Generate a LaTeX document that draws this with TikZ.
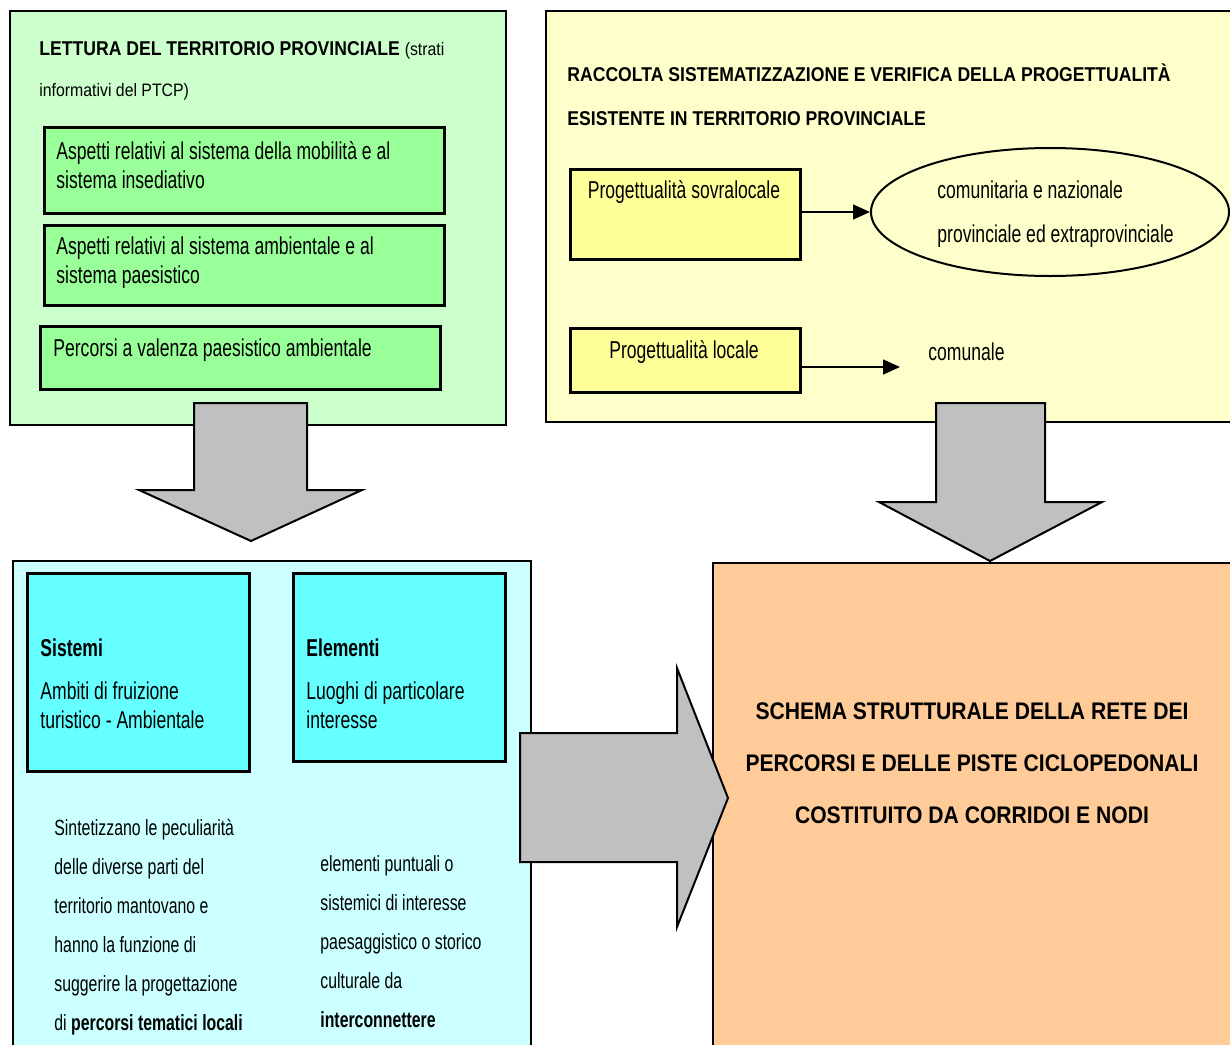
\documentclass[tikz,border=0pt]{standalone}
\usepackage{fontspec}
\setmainfont[FakeStretch=0.72]{Liberation Sans}
\newfontfamily\headfont[FakeStretch=0.88]{Liberation Sans}
\usetikzlibrary{arrows.meta,shapes.geometric}
\definecolor{greenbg}{HTML}{CCFFCC}
\definecolor{greenbox}{HTML}{99FF99}
\definecolor{yellowbg}{HTML}{FFFFCC}
\definecolor{yellowbox}{HTML}{FFFF99}
\definecolor{cyanbg}{HTML}{CCFFFF}
\definecolor{cyanbox}{HTML}{66FFFF}
\definecolor{orangebg}{HTML}{FFCC99}
\definecolor{arrowgray}{HTML}{C0C0C0}
\tikzset{
  panel/.style={draw, line width=1pt, anchor=north west, inner sep=0pt},
  subbox/.style={draw, line width=1.3pt, anchor=north west, inner sep=0pt},
  txt/.style={anchor=west, align=left, inner sep=0pt, font=\fontsize{12.2}{14.5}\selectfont},
  coltxt/.style={anchor=west, align=left, inner sep=0pt, font=\fontsize{11}{19.5}\selectfont},
  head/.style={anchor=west, align=left, inner sep=0pt, font=\headfont\bfseries\fontsize{10}{22}\selectfont},
  blockarrow/.style={draw, fill=arrowgray, line width=1pt, line join=miter},
  link/.style={-{Triangle[length=8.5pt,width=7.5pt]}, line width=0.7pt},
}
\begin{document}
\begin{tikzpicture}[x=0.5pt, y=-0.5pt]
\useasboundingbox (0,0) rectangle (1230,1044);
\clip (0,0) rectangle (1230,1044);
\node[panel, fill=greenbg, minimum width=248pt, minimum height=207pt] (lettura) at (9,10) {};
\node[subbox, fill=greenbox, minimum width=200pt, minimum height=43pt] (mobilita) at (43,126) {};
\node[subbox, fill=greenbox, minimum width=200pt, minimum height=40pt] (ambiente) at (43,224) {};
\node[subbox, fill=greenbox, minimum width=200pt, minimum height=31.5pt] (percorsi) at (39,325) {};
\node[head] (letturaT) at (39,50) {LETTURA DEL TERRITORIO PROVINCIALE {\mdseries\fontsize{9}{11}\selectfont (strati}};
\node[anchor=west, inner sep=0pt, font=\headfont\fontsize{9}{11}\selectfont] (letturaS) at (39,92) {informativi del PTCP)};
\node[txt] (mobilitaT) at (56,165) {Aspetti relativi al sistema della mobilità e al\\sistema insediativo};
\node[txt] (ambienteT) at (56,263) {Aspetti relativi al sistema ambientale e al\\sistema paesistico};
\node[txt] (percorsiT) at (53,350) {Percorsi a valenza paesistico ambientale};
\node[panel, fill=yellowbg, minimum width=346pt, minimum height=205.5pt] (raccolta) at (545,10) {};
\node[head] (raccoltaT) at (567,95) {RACCOLTA SISTEMATIZZAZIONE E VERIFICA DELLA PROGETTUALITÀ\\ESISTENTE IN TERRITORIO PROVINCIALE};
\node[subbox, fill=yellowbox, minimum width=115pt, minimum height=45pt] (sovra) at (569,168) {};
\node[inner sep=0pt, font=\fontsize{12.2}{14.5}\selectfont] (sovraT) at (684,192) {Progettualità sovralocale};
\node[draw, ellipse, line width=1pt, minimum width=179pt, minimum height=64pt, inner sep=0pt] (scala) at (1050,212) {};
\node[txt, font=\fontsize{12.2}{22}\selectfont] (scalaT) at (937,214) {comunitaria e nazionale\\provinciale ed extraprovinciale};
\draw[link] (sovra.east |- scala.west) -- (scala.west);
\node[subbox, fill=yellowbox, minimum width=115pt, minimum height=32pt] (locale) at (569,327) {};
\node[inner sep=0pt, font=\fontsize{12.2}{14.5}\selectfont] (localeT) at (684,352) {Progettualità locale};
\node[txt] (comunale) at (928,352) {comunale};
\coordinate (comunaleIn) at (900,367);
\draw[link] (locale.east |- comunaleIn) -- (comunaleIn);
\node[panel, fill=cyanbg, minimum width=259pt, minimum height=245pt] (fruizione) at (12,560) {};
\node[subbox, fill=cyanbox, minimum width=111pt, minimum height=99pt] (sistemi) at (26,572) {};
\node[subbox, fill=cyanbox, minimum width=106pt, minimum height=94pt] (elementi) at (292,572) {};
\node[txt] (sistemiT) at (40,684) {\textbf{Sistemi}\\[7pt]Ambiti di fruizione\\turistico - Ambientale};
\node[txt] (elementiT) at (306,684) {\textbf{Elementi}\\[7pt]Luoghi di particolare\\interesse};
\node[coltxt] (sistemiD) at (54,927) {Sintetizzano le peculiarità\\delle diverse parti del\\territorio mantovano e\\hanno la funzione di\\suggerire la progettazione\\di \textbf{percorsi tematici locali}};
\node[coltxt] (elementiD) at (320,942) {elementi puntuali o\\sistemici di interesse\\paesaggistico o storico\\culturale da\\\textbf{interconnettere}};
\node[panel, fill=orangebg, minimum width=265pt, minimum height=250pt] (schema) at (712,562) {};
\node[align=center, inner sep=0pt, font=\headfont\bfseries\fontsize{12}{26}\selectfont] (schemaT) at (972,763) {SCHEMA STRUTTURALE DELLA RETE DEI\\PERCORSI E DELLE PISTE CICLOPEDONALI\\COSTITUITO DA CORRIDOI E NODI};
\draw[blockarrow] (194,403) -- (307,403) -- (307,490) -- (362,490) -- (251,541) -- (139,490) -- (194,490) -- cycle;
\draw[blockarrow] (936,403) -- (1045,403) -- (1045,502) -- (1102,502) -- (990,561) -- (879,502) -- (936,502) -- cycle;
\draw[blockarrow] (520,733) -- (677,733) -- (677,668) -- (728,798) -- (677,927) -- (677,862) -- (520,862) -- cycle;
\end{tikzpicture}
\end{document}
